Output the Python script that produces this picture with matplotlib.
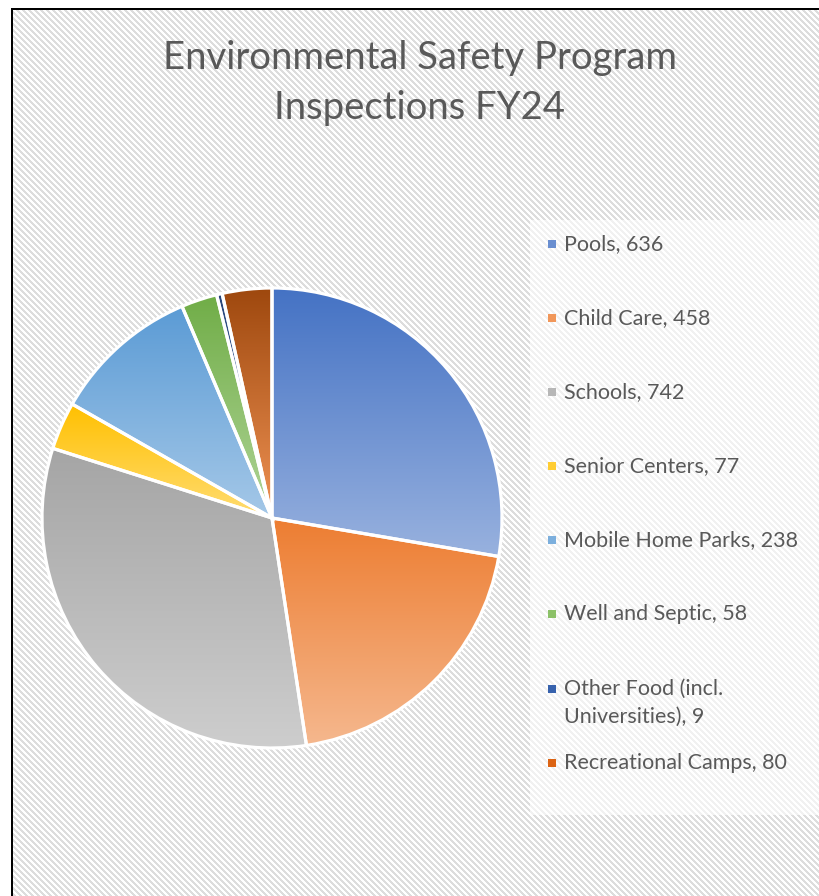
import colorsys
import numpy as np
import matplotlib.pyplot as plt
from matplotlib.colors import to_rgb
from matplotlib.patches import Rectangle

# Inspection counts by program, FY24
categories = ['Pools', 'Child Care', 'Schools', 'Senior Centers', 'Mobile Home Parks',
              'Well and Septic', 'Other Food (incl.\nUniversities)', 'Recreational Camps']
inspections = [636, 458, 742, 77, 238, 58, 9, 80]
colors = ['#4472C4', '#ED7D31', '#A5A5A5', '#FFC000', '#5B9BD5',
          '#70AD47', '#264478', '#9E480E']
title_lines = ['Environmental Safety Program', 'Inspections FY24']

W, H = 819, 896
plt.rcParams['font.family'] = ['Lato', 'DejaVu Sans']
text_color = '#595959'


def lighter(c, amount=0.45):
    r, g, b = to_rgb(c)
    h, l, s = colorsys.rgb_to_hls(r, g, b)
    l = l + amount * (1 - l)
    return colorsys.hls_to_rgb(h, l, s)


def gradient(c, n=256):
    top = np.array(to_rgb(c))
    bot = np.array(lighter(c))
    t = np.linspace(0, 1, n)[:, None]
    return (top * (1 - t) + bot * t)[:, None, :]


fig = plt.figure(figsize=(W / 100, H / 100), dpi=100)

# striped chart-area background with a black frame
bg_ax = fig.add_axes([0, 0, 1, 1])
yy, xx = np.mgrid[0:H, 0:W]
bg = np.ones((H, W, 3))
stripe = ((xx - yy) % 6) < 3
bg[stripe] = 0.87
bg[:10, :] = 1.0
bg[:, :11] = 1.0
bg[8:10, 11:] = 0.0
bg[8:, 11:13] = 0.0
bg_ax.imshow(bg, interpolation='nearest', aspect='auto', extent=[0, W, H, 0])
bg_ax.set_xlim(0, W)
bg_ax.set_ylim(H, 0)
bg_ax.axis('off')

# legend box (lighter area)
bg_ax.add_patch(Rectangle((530, 220), 300, 595, facecolor='white', alpha=0.6,
                          edgecolor='none'))

# pie
cx, cy, R = 272, 518, 230
pad = 1.03
ax = fig.add_axes([(cx - R * pad) / W, (H - cy - R * pad) / H,
                   2 * R * pad / W, 2 * R * pad / H])
wedges, _ = ax.pie(inspections, colors=colors, startangle=90, counterclock=False,
                   radius=1.0, wedgeprops=dict(edgecolor='white', linewidth=2.3))
for w, c in zip(wedges, colors):
    th = np.radians(np.linspace(w.theta1, w.theta2, 200))
    xs = np.concatenate([[0], w.r * np.cos(th)])
    ys = np.concatenate([[0], w.r * np.sin(th)])
    im = ax.imshow(gradient(c), extent=[xs.min(), xs.max(), ys.min(), ys.max()],
                   origin='upper', aspect='auto', zorder=1, interpolation='bilinear')
    im.set_clip_path(w)
    w.set_facecolor('none')
    w.set_zorder(2)
ax.set_xlim(-pad, pad)
ax.set_ylim(-pad, pad)
ax.set_aspect('equal')
ax.axis('off')

# title
for line, ty in zip(title_lines, [58, 108]):
    bg_ax.text(420, ty, line, ha='center', va='center', fontsize=27.5,
               color=text_color)

# legend
y0, step = 244, 74.1
for i, (name, val, c) in enumerate(zip(categories, inspections, colors)):
    y = y0 + i * step
    bg_ax.add_patch(Rectangle((548, y - 4), 8, 8, facecolor=lighter(c, 0.2),
                              edgecolor='none'))
    if '\n' in name:
        bg_ax.text(564, y - 10, f'{name}, {val}', ha='left', va='top',
                   fontsize=15.5, color=text_color, linespacing=1.5)
    else:
        bg_ax.text(564, y, f'{name}, {val}', ha='left', va='center',
                   fontsize=15.5, color=text_color)

fig.savefig('out.png', dpi=100)
